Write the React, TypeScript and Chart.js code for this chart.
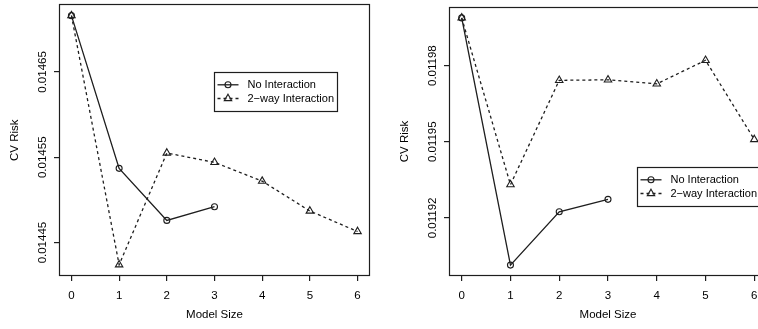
import React, { useEffect, useRef } from "react";
import { Chart, registerables } from "chart.js";

Chart.register(...registerables);

// ---------- data ----------
const modelSizes = [0, 1, 2, 3, 4, 5, 6];
const xTickLabels = ["0", "1", "2", "3", "4", "5", "6"];
const seriesNames = ["No Interaction", "2\u2212way Interaction"];

const leftNoInteraction = [0.014716, 0.014537, 0.014476, 0.014492];
const leftTwoWay = [0.014716, 0.014424, 0.014555, 0.014544, 0.014522, 0.014487, 0.014463];
const leftYTicks = [0.01445, 0.01455, 0.01465];
const leftYTickLabels = ["0.01445", "0.01455", "0.01465"];

const rightNoInteraction = [0.0119988, 0.0119014, 0.0119224, 0.0119273];
const rightTwoWay = [0.0119988, 0.0119331, 0.0119742, 0.0119744, 0.0119728, 0.0119821, 0.0119509];
const rightYTicks = [0.01192, 0.01195, 0.01198];
const rightYTickLabels = ["0.01192", "0.01195", "0.01198"];

// ---------- styles ----------
const FONT = "'Liberation Sans', Arial, Helvetica, sans-serif";
const INK = "#000000";
const LINE = "#1e1e1e";
const FS = 11.5;
const LEGEND_FS = 11;

type PanelProps = {
  left: number;
  width: number;
  padTop: number;
  padRight: number;
  yMin: number;
  yMax: number;
  yTicks: number[];
  yTickLabels: string[];
  noInt: number[];
  twoWay: number[];
  legendX: number;
  legendY: number;
};

const boxPlugin = {
  id: "rbox",
  afterDraw(chart: any) {
    const { ctx, chartArea: a } = chart;
    ctx.save();
    ctx.strokeStyle = LINE;
    ctx.lineWidth = 1.2;
    const l = Math.round(a.left) - 0.5;
    const t = Math.round(a.top) - 0.5;
    const r = Math.round(a.right) + 0.5;
    const b = Math.round(a.bottom) + 0.5;
    ctx.strokeRect(l, t, r - l, b - t);
    ctx.restore();
  },
};

function drawMarker(ctx: CanvasRenderingContext2D, style: string, x: number, y: number, r: number) {
  ctx.beginPath();
  if (style === "triangle") {
    ctx.moveTo(x, y - r);
    ctx.lineTo(x + Math.sin((2 * Math.PI) / 3) * r, y + 0.5 * r);
    ctx.lineTo(x - Math.sin((2 * Math.PI) / 3) * r, y + 0.5 * r);
    ctx.closePath();
  } else {
    ctx.arc(x, y, r, 0, Math.PI * 2);
  }
  ctx.stroke();
}

function Panel(p: PanelProps) {
  const ref = useRef<HTMLCanvasElement | null>(null);
  useEffect(() => {
    if (!ref.current) return;
    const yLabelPlugin = {
      id: "ylabels",
      afterDraw(chart: any) {
        const { ctx, chartArea } = chart;
        const ys = chart.scales.y;
        ctx.save();
        ctx.fillStyle = INK;
        ctx.font = `${FS}px ${FONT}`;
        ctx.textAlign = "center";
        ctx.textBaseline = "middle";
        p.yTicks.forEach((v, i) => {
          const py = ys.getPixelForValue(v);
          ctx.save();
          ctx.translate(chartArea.left - 17, py);
          ctx.rotate(-Math.PI / 2);
          ctx.fillText(p.yTickLabels[i], 0, 0);
          ctx.restore();
        });
        ctx.restore();
      },
    };
    const legendPlugin = {
      id: "rlegend",
      afterDraw(chart: any) {
        const { ctx } = chart;
        const xs = chart.scales.x;
        const ys = chart.scales.y;
        const x0 = Math.round(xs.getPixelForValue(p.legendX)) + 0.5;
        const y0 = Math.round(ys.getPixelForValue(p.legendY)) + 0.5;
        const w = 123;
        const h = 39;
        ctx.save();
        ctx.fillStyle = "#ffffff";
        ctx.fillRect(x0, y0, w, h);
        ctx.strokeStyle = LINE;
        ctx.lineWidth = 1.2;
        ctx.strokeRect(x0, y0, w, h);
        chart.data.datasets.forEach((ds: any, i: number) => {
          const ry = y0 + 12.3 + i * 13.7;
          ctx.strokeStyle = LINE;
          ctx.lineWidth = 1.3;
          ctx.setLineDash(ds.borderDash || []);
          ctx.beginPath();
          ctx.moveTo(x0 + 3, ry);
          ctx.lineTo(x0 + 24, ry);
          ctx.stroke();
          ctx.setLineDash([]);
          ctx.lineWidth = 1.1;
          drawMarker(ctx, ds.pointStyle, x0 + 13.5, ry, ds.pointRadius);
          ctx.fillStyle = INK;
          ctx.font = `${LEGEND_FS}px ${FONT}`;
          ctx.textAlign = "left";
          ctx.textBaseline = "middle";
          ctx.fillText(ds.label, x0 + 33, ry);
        });
        ctx.restore();
      },
    };

    const grid = {
      display: true,
      drawOnChartArea: false,
      drawTicks: true,
      tickLength: 6,
      color: LINE,
      lineWidth: 1.2,
    };

    const chart = new Chart(ref.current, {
      type: "line",
      data: {
        datasets: [
          {
            label: seriesNames[0],
            data: p.noInt.map((v, i) => ({ x: modelSizes[i], y: v })),
            borderColor: LINE,
            borderWidth: 1.3,
            pointStyle: "circle",
            pointRadius: 3,
            pointBorderWidth: 1.1,
            pointBorderColor: LINE,
            pointBackgroundColor: "rgba(0,0,0,0)",
            fill: false,
            tension: 0,
          },
          {
            label: seriesNames[1],
            data: p.twoWay.map((v, i) => ({ x: modelSizes[i], y: v })),
            borderColor: LINE,
            borderWidth: 1.3,
            borderDash: [3, 3],
            pointStyle: "triangle",
            pointRadius: 4.3,
            pointBorderWidth: 1.1,
            pointBorderColor: LINE,
            pointBackgroundColor: "rgba(0,0,0,0)",
            fill: false,
            tension: 0,
          },
        ],
      },
      options: {
        animation: false,
        responsive: false,
        maintainAspectRatio: false,
        layout: { padding: { left: 0, top: p.padTop, right: p.padRight, bottom: 0 } },
        plugins: { legend: { display: false }, tooltip: { enabled: false } },
        scales: {
          x: {
            type: "linear",
            min: -0.24,
            max: 6.24,
            afterBuildTicks: (s: any) => {
              s.ticks = modelSizes.map((v) => ({ value: v }));
            },
            afterFit: (s: any) => {
              s.height = 54;
            },
            ticks: {
              autoSkip: false,
              maxRotation: 0,
              padding: 8,
              color: INK,
              font: { family: FONT, size: FS },
              callback: (v: any) => {
                const i = modelSizes.indexOf(Number(v));
                return i >= 0 ? xTickLabels[i] : "";
              },
            },
            grid,
            border: { display: false },
            title: {
              display: true,
              text: "Model Size",
              color: INK,
              font: { family: FONT, size: FS },
              padding: { top: 0, bottom: 7 },
            },
          },
          y: {
            type: "linear",
            min: p.yMin,
            max: p.yMax,
            afterBuildTicks: (s: any) => {
              s.ticks = p.yTicks.map((v) => ({ value: v }));
            },
            afterFit: (s: any) => {
              s.width = 60;
            },
            ticks: { display: false },
            grid,
            border: { display: false },
            title: {
              display: true,
              text: "CV Risk",
              color: INK,
              font: { family: FONT, size: FS },
              padding: { top: 8, bottom: 0 },
            },
          },
        },
      } as any,
      plugins: [boxPlugin, yLabelPlugin, legendPlugin],
    });
    return () => chart.destroy();
  }, []);

  return (
    <canvas
      ref={ref}
      width={p.width}
      height={329}
      style={{ position: "absolute", left: p.left, top: 0, width: p.width, height: 329 }}
    />
  );
}

export default function App() {
  return (
    <div
      style={{
        position: "fixed",
        left: 0,
        top: 0,
        width: 758,
        height: 329,
        overflow: "hidden",
        background: "#ffffff",
      }}
    >
      <Panel
        left={0}
        width={380}
        padTop={5}
        padRight={11}
        yMin={0.014412}
        yMax={0.014728}
        yTicks={leftYTicks}
        yTickLabels={leftYTickLabels}
        noInt={leftNoInteraction}
        twoWay={leftTwoWay}
        legendX={2.98}
        legendY={0.01465}
      />
      <Panel
        left={390}
        width={388}
        padTop={8}
        padRight={12}
        yMin={0.0118975}
        yMax={0.0120027}
        yTicks={rightYTicks}
        yTickLabels={rightYTickLabels}
        noInt={rightNoInteraction}
        twoWay={rightTwoWay}
        legendX={3.6}
        legendY={0.01194}
      />
    </div>
  );
}
